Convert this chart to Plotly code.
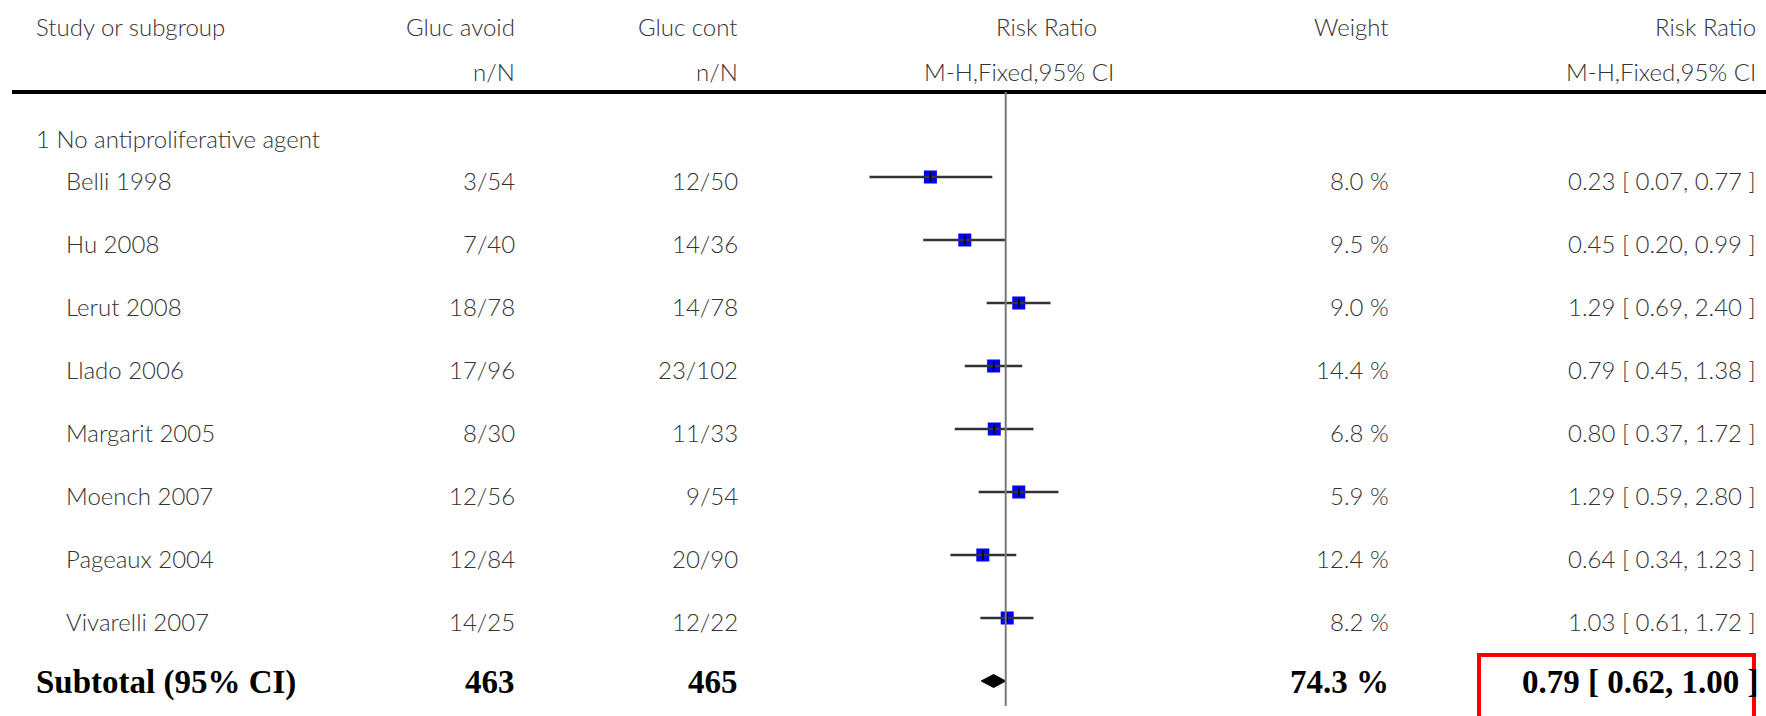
import plotly.graph_objects as go

# ---------------- data ----------------
studies = ["Belli 1998", "Hu 2008", "Lerut 2008", "Llado 2006",
           "Margarit 2005", "Moench 2007", "Pageaux 2004", "Vivarelli 2007"]
avoid_nN = ["3/54", "7/40", "18/78", "17/96", "8/30", "12/56", "12/84", "14/25"]
cont_nN = ["12/50", "14/36", "14/78", "23/102", "11/33", "9/54", "20/90", "12/22"]
rr = [0.23, 0.45, 1.29, 0.79, 0.80, 1.29, 0.64, 1.03]
ci_low = [0.07, 0.20, 0.69, 0.45, 0.37, 0.59, 0.34, 0.61]
ci_high = [0.77, 0.99, 2.40, 1.38, 1.72, 2.80, 1.23, 1.72]
weights = [8.0, 9.5, 9.0, 14.4, 6.8, 5.9, 12.4, 8.2]

subgroup_label = "1 No antiproliferative agent"
subtotal_label = "Subtotal (95% CI)"
subtotal_avoid = 463
subtotal_cont = 465
subtotal_rr = 0.79
subtotal_low = 0.62
subtotal_high = 1.00
subtotal_weight = 74.3

headers1 = ["Study or subgroup", "Gluc avoid", "Gluc cont", "Risk Ratio", "Weight", "Risk Ratio"]
headers2 = ["", "n/N", "n/N", "M-H,Fixed,95% CI", "", "M-H,Fixed,95% CI"]

# ---------------- layout constants ----------------
W, H = 1766, 716
ROW0, ROWH = 177.0, 63.0          # pixel centre of first study row, row pitch
def prow(py):                     # pixel -> row units
    return (py - ROW0) / ROWH
def px(x):                        # pixel -> paper x
    return x / W

REG = dict(family="Lato, 'Open Sans', sans-serif", size=24, color="#333333", weight=300)
BOLD = dict(family="'Liberation Serif', 'Times New Roman', serif", size=33, color="#000000")

fig = go.Figure()

rows = list(range(len(studies)))
sub_row = len(studies)

# CI lines
cx, cy = [], []
for i in rows:
    cx += [ci_low[i], ci_high[i], None]
    cy += [i, i, None]

# blue squares
fig.add_trace(go.Scatter(x=rr, y=rows, mode="markers",
                         marker=dict(symbol="square", size=13, color="#0000ff",
                                     line=dict(width=0)),
                         hoverinfo="skip", showlegend=False))
fig.add_trace(go.Scatter(x=cx, y=cy, mode="lines",
                         line=dict(color="#333333", width=2.5),
                         hoverinfo="skip", showlegend=False))
fig.add_trace(go.Scatter(x=rr, y=rows, mode="markers",
                         marker=dict(symbol="line-ns", size=7,
                                     line=dict(width=1.5, color="#000000")),
                         hoverinfo="skip", showlegend=False))

# diamond
dh = 6.5 / ROWH
fig.add_trace(go.Scatter(
    x=[subtotal_low, subtotal_rr, subtotal_high, subtotal_rr, subtotal_low],
    y=[sub_row, sub_row - dh, sub_row, sub_row + dh, sub_row],
    mode="lines", fill="toself", fillcolor="#000000",
    line=dict(color="#000000", width=1), hoverinfo="skip", showlegend=False))

# ---------------- text ----------------
ann = []
def A(x, y, text, anchor, font):
    ann.append(dict(x=px(x), xref="paper", y=y, yref="y", text=text,
                    xanchor=anchor, yanchor="middle", showarrow=False, font=font))

h1y, h2y = prow(26), prow(71)
A(34, h1y, headers1[0], "left", REG)
A(517, h1y, headers1[1], "right", REG)
A(740, h1y, headers1[2], "right", REG)
A(1046, h1y, headers1[3], "center", REG)
A(1391, h1y, headers1[4], "right", REG)
A(1758, h1y, headers1[5], "right", REG)
A(517, h2y, headers2[1], "right", REG)
A(740, h2y, headers2[2], "right", REG)
A(1019, h2y, headers2[3], "center", REG)
A(1758, h2y, headers2[5], "right", REG)

A(34, prow(138), subgroup_label, "left", REG)

for i in rows:
    y = i + 3 / ROWH
    A(64, y, studies[i], "left", REG)
    A(517, y, avoid_nN[i], "right", REG)
    A(740, y, cont_nN[i], "right", REG)
    A(1391, y, f"{weights[i]:.1f} %", "right", REG)
    A(1758, y, f"{rr[i]:.2f} [ {ci_low[i]:.2f}, {ci_high[i]:.2f} ]", "right", REG)

ys = sub_row + 1 / ROWH
A(34, ys, f"<b>{subtotal_label}</b>", "left", BOLD)
A(517, ys, f"<b>{subtotal_avoid}</b>", "right", BOLD)
A(740, ys, f"<b>{subtotal_cont}</b>", "right", BOLD)
A(1391, ys, f"<b>{subtotal_weight:.1f} %</b>", "right", BOLD)
A(1760, ys, f"<b>{subtotal_rr:.2f} [ {subtotal_low:.2f}, {subtotal_high:.2f} ]</b>", "right", BOLD)

# ---------------- shapes ----------------
shapes = [
    # header rule
    dict(type="line", xref="paper", yref="y", x0=px(12), x1=1.0,
         y0=prow(92), y1=prow(92), line=dict(color="#000000", width=4)),
    # line of no effect
    dict(type="line", xref="x", yref="y", x0=1, x1=1,
         y0=prow(92), y1=prow(706), line=dict(color="#777777", width=2)),
    # red highlight box
    dict(type="rect", xref="paper", yref="y", x0=px(1479), x1=px(1754),
         y0=prow(655), y1=prow(722), line=dict(color="#ff0000", width=4),
         fillcolor="rgba(0,0,0,0)"),
]

centre, per_dec = 1005.7, 118.0
fig.update_layout(
    width=W, height=H, margin=dict(l=0, r=0, t=0, b=0),
    paper_bgcolor="white", plot_bgcolor="white",
    xaxis=dict(type="log", range=[-2, 2],
               domain=[px(centre - 2 * per_dec), px(centre + 2 * per_dec)],
               visible=False, showgrid=False, zeroline=False),
    yaxis=dict(range=[prow(H), prow(0)], domain=[0, 1], visible=False,
               showgrid=False, zeroline=False),
    annotations=ann, shapes=shapes, showlegend=False,
)

fig.write_html("out.html")
